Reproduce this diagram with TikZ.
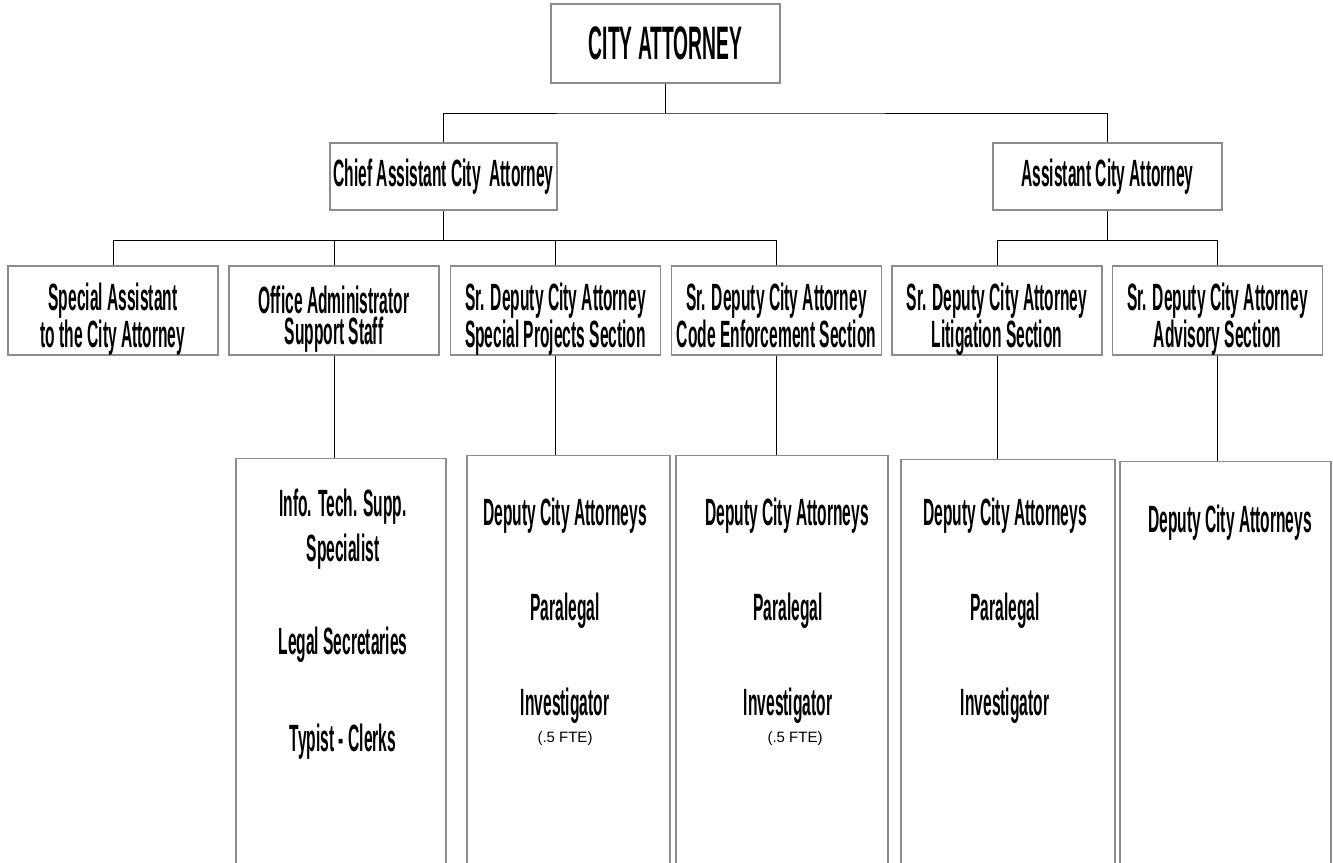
\documentclass[tikz,border=0pt]{standalone}
\usepackage{fontspec}
\newfontfamily\orgfont[FakeStretch=0.41]{Liberation Sans}
\newfontfamily\notefont{Liberation Sans}
\usetikzlibrary{positioning}

\begin{document}
\begin{tikzpicture}[x=1pt,y=-1pt,link/.style={draw=black,line width=1pt}]

    \tikzstyle{post}=[draw=black!45,line width=1.3pt,fill=white,text=black,align=center,inner sep=0pt,minimum height=89,minimum width=210,font=\orgfont\bfseries\fontsize{38}{31}\selectfont]
    \tikzstyle{staff}=[draw=black!45,line width=1.3pt,fill=white,anchor=north,minimum height=430]
    \tikzstyle{role}=[inner sep=0pt,align=center,font=\orgfont\bfseries\fontsize{38}{31}\selectfont]
    \tikzstyle{fte}=[inner sep=0pt,font=\notefont\fontsize{15}{15}\selectfont]

    \useasboundingbox (0,0) rectangle (1333,862);

    % top level
    \node[post,minimum width=229,minimum height=79,font=\orgfont\bfseries\fontsize{47}{47}\selectfont] (ca) at (665.5,43.5) {CITY ATTORNEY};
    \node[post,minimum width=227,minimum height=67] (chief) at (443.5,176.5) {Chief Assistant City\ \ Attorney};
    \node[post,minimum width=229,minimum height=67] (aca) at (1107.5,176.5) {Assistant City Attorney};

    % sections
    \node[post] (s1) at (113,310.5)    {};
    \node[post] (s2) at (334,310.5)    {};
    \node[post] (s3) at (555.5,310.5)  {};
    \node[post] (s4) at (776.5,310.5)  {};
    \node[post] (s5) at (997,310.5)    {};
    \node[post] (s6) at (1217.5,310.5) {};

    \node[role] (s1t) at (113,320)    {Special Assistant\\to the City Attorney\strut};
    \node[role] (s2t) at (334,320)    {Office Administrator\\Support Staff\strut};
    \node[role] (s3t) at (555.5,320)  {Sr. Deputy City Attorney\\Special Projects Section\strut};
    \node[role] (s4t) at (776.5,320)  {Sr. Deputy City Attorney\\Code Enforcement Section\strut};
    \node[role] (s5t) at (997,320)    {Sr. Deputy City Attorney\\Litigation Section\strut};
    \node[role] (s6t) at (1217.5,320) {Sr. Deputy City Attorney\\Advisory Section\strut};

    % staff columns
    \node[staff,minimum width=210] (a) at (341,458) {};
    \node[staff,minimum width=203] (b) at (568.5,455) {};
    \node[staff,minimum width=212] (c) at (782,455) {};
    \node[staff,minimum width=214] (d) at (1008,459) {};
    \node[staff,minimum width=211] (e) at (1225.5,461) {};

    \node[role] (a1) at (343,507) {Info. Tech. Supp.};
    \node[role] (a2) at (343,552) {Specialist};
    \node[role] (a3) at (343,645) {Legal Secretaries};
    \node[role] (a4) at (343,742) {Typist - Clerks};

    \node[role] (b1) at (565,516) {Deputy City Attorneys};
    \node[role] (b2) at (565,611) {Paralegal};
    \node[role] (b3) at (565,706) {Investigator};
    \node[fte]  (b4) at (565,739) {(.5 FTE)};

    \node[role] (c1) at (787,516) {Deputy City Attorneys};
    \node[role] (c2) at (788,611) {Paralegal};
    \node[role] (c3) at (788,706) {Investigator};
    \node[fte]  (c4) at (795,739) {(.5 FTE)};

    \node[role] (d1) at (1005,516) {Deputy City Attorneys};
    \node[role] (d2) at (1005,611) {Paralegal};
    \node[role] (d3) at (1005,706) {Investigator};

    \node[role] (e1) at (1230,523) {Deputy City Attorneys};

    % connectors
    \coordinate (tbar) at (667,113);
    \coordinate (cbar) at (447,240);
    \coordinate (abar) at (1109,240);

    \draw[link] (ca.south) -- (ca.south |- tbar);
    \draw[link] (chief.north) |- (tbar) -| (aca.north);

    \draw[link] (chief.south) -- (chief.south |- cbar);
    \draw[link] (s1.north |- cbar) -- (s4.north |- cbar);
    \foreach \n in {s1,s2,s3,s4}
        \draw[link] (\n.north) -- (\n.north |- cbar);

    \draw[link] (aca.south) -- (aca.south |- abar);
    \draw[link] (s5.north |- abar) -- (s6.north |- abar);
    \foreach \n in {s5,s6}
        \draw[link] (\n.north) -- (\n.north |- abar);

    \draw[link] (s2.south) -- (s2.south |- a.north);
    \draw[link] (s3.south) -- (s3.south |- b.north);
    \draw[link] (s4.south) -- (s4.south |- c.north);
    \draw[link] (s5.south) -- (s5.south |- d.north);
    \draw[link] (s6.south) -- (s6.south |- e.north);
\end{tikzpicture}
\end{document}
